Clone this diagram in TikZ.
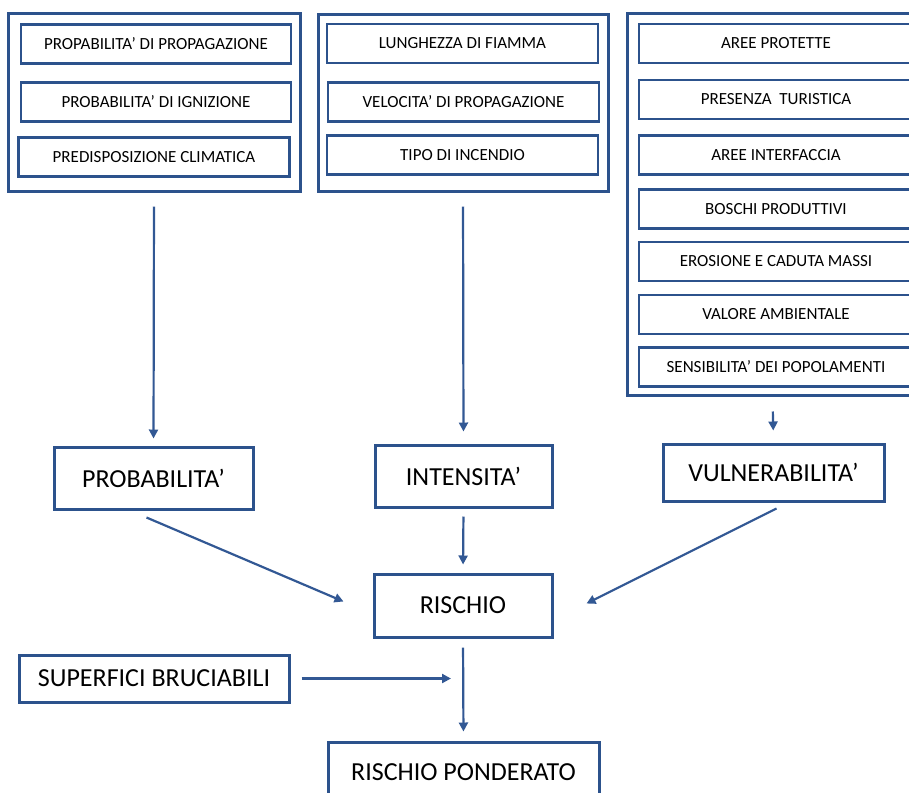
\documentclass[tikz,border=0pt]{standalone}
\usepackage{fontspec}
\setmainfont{Carlito}
\usetikzlibrary{arrows.meta}
\definecolor{boxblue}{RGB}{44,82,140}
\definecolor{arrowblue}{RGB}{50,88,148}
\tikzset{
	outerbox/.style={draw=boxblue, line width=3pt, inner sep=0pt},
	itembox/.style={draw=boxblue, line width=2.8pt, minimum height=39pt, inner sep=0pt, font=\fontsize{17}{19}\selectfont},
	bigbox/.style={draw=boxblue, line width=3pt, inner sep=0pt, font=\fontsize{26}{28}\selectfont},
	arr/.style={draw=arrowblue, line width=2.2pt, -{Triangle[length=9pt,width=9pt]}}
}

\begin{document}
\begin{tikzpicture}[x=1pt, y=-1pt]
	%%%%% START %%%%%
	\useasboundingbox (0,0) rectangle (909,792);

	% probabilita'
	\node[outerbox, minimum width=292pt, minimum height=177pt] (grpprob) at (154,102.5) {};
	\node[itembox, minimum width=270pt] (propag) at (156,44) {PROPABILITA' DI PROPAGAZIONE};
	\node[itembox, minimum width=270pt] (ignit) at (156,102) {PROBABILITA' DI IGNIZIONE};
	\node[itembox, minimum width=271pt] (clima) at (154,157) {PREDISPOSIZIONE CLIMATICA};

	% intensita'
	\node[outerbox, minimum width=290pt, minimum height=176pt] (grpint) at (463,103) {};
	\node[itembox, minimum width=271pt] (fiamma) at (462.5,43.5) {LUNGHEZZA DI FIAMMA};
	\node[itembox, minimum width=271pt] (veloc) at (463.5,102) {VELOCITA' DI PROPAGAZIONE};
	\node[itembox, minimum width=271pt] (tipo) at (462.5,155) {TIPO DI INCENDIO};

	% vulnerabilita'
	\node[outerbox, minimum width=291pt, minimum height=381pt] (grpvul) at (772.5,204.5) {};
	\node[itembox, minimum width=274pt] (aree) at (776,43.5) {AREE PROTETTE};
	\node[itembox, minimum width=274pt] (turist) at (776,99.5) {PRESENZA\ \ TURISTICA};
	\node[itembox, minimum width=274pt] (interf) at (776,155) {AREE INTERFACCIA};
	\node[itembox, minimum width=274pt] (boschi) at (776,209) {BOSCHI PRODUTTIVI};
	\node[itembox, minimum width=274pt] (erosione) at (776,261.5) {EROSIONE E CADUTA MASSI};
	\node[itembox, minimum width=274pt] (valore) at (776,314.5) {VALORE AMBIENTALE};
	\node[itembox, minimum width=274pt] (sensib) at (776,367) {SENSIBILITA' DEI POPOLAMENTI};

	% fattori
	\node[bigbox, minimum width=199pt, minimum height=62pt] (prob) at (153.5,478) {PROBABILITA'};
	\node[bigbox, minimum width=177pt, minimum height=62pt] (int) at (463.5,476) {INTENSITA'};
	\node[bigbox, minimum width=221pt, minimum height=57pt] (vul) at (773.5,472.5) {VULNERABILITA'};

	\node[bigbox, minimum width=178pt, minimum height=63pt] (risk) at (463,605.5) {RISCHIO};
	\node[bigbox, minimum width=270pt, minimum height=47pt] (surf) at (154,678.5) {SUPERFICI BRUCIABILI};
	\node[bigbox, minimum width=271pt, minimum height=60pt] (pond) at (463.5,772) {RISCHIO PONDERATO};
	\coordinate (merge) at (451,678.5);

	% frecce
	\draw[arr, shorten <=14pt, shorten >=7pt] (grpprob.south) -- (prob.north);
	\draw[arr, shorten <=14pt, shorten >=12pt] (grpint.south) -- (int.north);
	\draw[arr, shorten <=15pt, shorten >=12pt] (grpvul.south) -- (vul.north);

	\draw[arr] ([shift={(-7,7)}]prob.south) -- ([shift={(-29,-4)}]risk.west);
	\draw[arr, shorten <=8pt, shorten >=8pt] (int.south) -- (risk.north);
	\draw[arr] ([shift={(3,6)}]vul.south) -- ([shift={(33,-2)}]risk.east);

	\draw[arr, shorten <=9pt, shorten >=9pt] (risk.south) -- (pond.north);
	\draw[arr, shorten <=11pt] (surf.east) -- (merge);
	%%%%% END %%%%%
\end{tikzpicture}
\end{document}
